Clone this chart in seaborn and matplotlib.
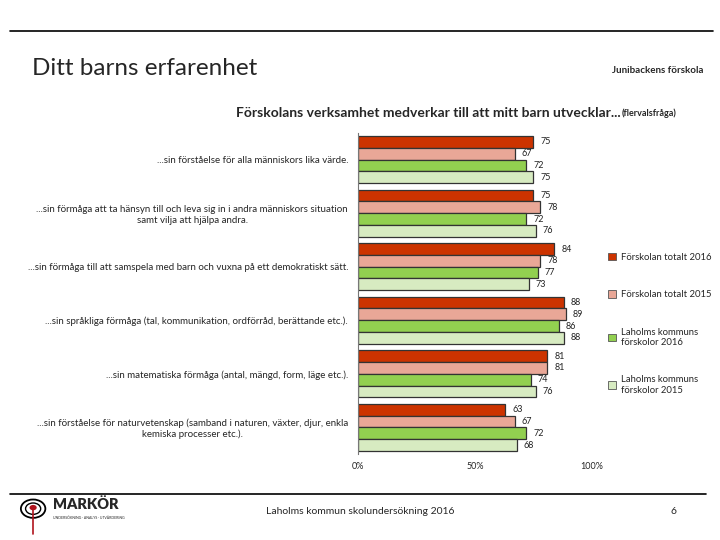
import numpy as np
import pandas as pd
import seaborn as sns
import matplotlib.pyplot as plt
from matplotlib.patches import Circle
from matplotlib.lines import Line2D

# data
categories = [
    '...sin förståelse för alla människors lika värde.',
    '...sin förmåga att ta hänsyn till och leva sig in i andra människors situation\nsamt vilja att hjälpa andra.',
    '...sin förmåga till att samspela med barn och vuxna på ett demokratiskt sätt.',
    '...sin språkliga förmåga (tal, kommunikation, ordförråd, berättande etc.).',
    '...sin matematiska förmåga (antal, mängd, form, läge etc.).',
    '...sin förståelse för naturvetenskap (samband i naturen, växter, djur, enkla\nkemiska processer etc.).',
]
series_names = ['Förskolan totalt 2016', 'Förskolan totalt 2015',
                'Laholms kommuns\nförskolor 2016', 'Laholms kommuns\nförskolor 2015']
forskolan_2016 = [75, 75, 84, 88, 81, 63]
forskolan_2015 = [67, 78, 78, 89, 81, 67]
kommun_2016 = [72, 72, 77, 86, 74, 72]
kommun_2015 = [75, 76, 73, 88, 76, 68]
colors = ['#CC3300', '#E9A797', '#92D050', '#D7EBC1']

df = pd.DataFrame({
    'kategori': categories * 4,
    'serie': np.repeat(series_names, len(categories)),
    'varde': forskolan_2016 + forskolan_2015 + kommun_2016 + kommun_2015,
})

sns.set_style('white')
plt.rcParams['font.family'] = ['Lato', 'DejaVu Sans']

fig = plt.figure(figsize=(7.2, 5.4), dpi=100)
ax = fig.add_axes([0.497, 0.159, 0.325, 0.595])

sns.barplot(data=df, y='kategori', x='varde', hue='serie', hue_order=series_names,
            palette=colors, saturation=1, orient='h', width=0.88, edgecolor='#333333',
            linewidth=0.9, ax=ax, legend=False)

for cont in ax.containers:
    ax.bar_label(cont, padding=5, fontsize=6.5, color='#222222')

ax.set_xlim(0, 100)
ax.set_ylim(5.5, -0.5)
ax.set_xticks([0, 50, 100])
ax.set_xticklabels(['0%', '50%', '100%'], fontsize=6.5)
ax.set_xlabel('')
ax.set_ylabel('')
ax.tick_params(axis='x', length=0, pad=6)
ax.set_yticks(range(len(categories)))
ax.set_yticklabels(categories, fontsize=7, multialignment='center')
ax.tick_params(axis='y', length=0, pad=7)
ax.set_yticks(np.arange(-0.5, 6.0, 1), minor=True)
ax.tick_params(axis='y', which='minor', length=4, direction='out', color='#777777')
for s in ['top', 'right', 'bottom']:
    ax.spines[s].set_visible(False)
ax.spines['left'].set_color('#777777')

# legend
handles = [plt.Rectangle((0, 0), 1, 1, facecolor=c, edgecolor='#555555', linewidth=0.6) for c in colors]
fig.legend(handles, series_names, loc='upper left', bbox_to_anchor=(0.832, 0.548),
           frameon=False, fontsize=6.8, labelspacing=3.0, handlelength=0.9, handleheight=0.9,
           handletextpad=0.5)

# chart title
fig.text(0.862, 0.79, 'Förskolans verksamhet medverkar till att mitt barn utvecklar...',
         ha='right', va='center', fontsize=10, fontweight='bold')
fig.text(0.864, 0.79, '(flervalsfråga)', ha='left', va='center', fontsize=6.5, fontweight='bold')

# page decorations
fig.add_artist(Line2D([0.014, 0.99], [0.943, 0.943], color='black', linewidth=1.2))
fig.add_artist(Line2D([0.014, 0.98], [0.085, 0.085], color='black', linewidth=1.2))
fig.text(0.045, 0.873, 'Ditt barns erfarenhet', ha='left', va='center', fontsize=17.5)
fig.text(0.977, 0.869, 'Junibackens förskola', ha='right', va='center', fontsize=7, fontweight='bold')
fig.text(0.5, 0.053, 'Laholms kommun skolundersökning 2016', ha='center', va='center', fontsize=7.5)
fig.text(0.935, 0.053, '6', ha='center', va='center', fontsize=7.5)

# logo
lx, ly = 0.046, 0.058
fig.add_artist(Circle((lx, ly), 0.017, transform=fig.transFigure, fill=False, lw=1.3, ec='black'))
fig.add_artist(Circle((lx, ly), 0.0105, transform=fig.transFigure, fill=False, lw=1.0, ec='black'))
fig.add_artist(Circle((lx, ly + 0.002), 0.005, transform=fig.transFigure, fc='#B0141E', ec='none'))
fig.add_artist(Line2D([lx, lx], [ly, 0.012], color='#B0141E', linewidth=1.2))
fig.text(0.073, 0.066, 'MARKÖR', ha='left', va='center', fontsize=10.5, fontweight='heavy')
fig.text(0.073, 0.04, 'UNDERSÖKNING · ANALYS · UTVÄRDERING', ha='left', va='center', fontsize=2.5)

fig.savefig('out.png', dpi=100)
